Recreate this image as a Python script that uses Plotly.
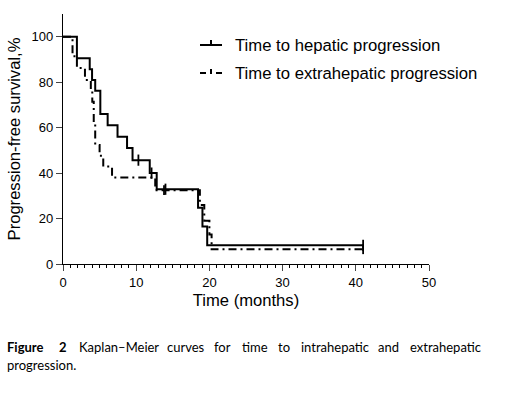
import plotly.graph_objects as go

# ---- data ----
hep_time = [0, 1.9, 3.65, 3.97, 4.4, 5.1, 6.1, 7.45, 8.75, 9.5, 11.85, 12.8, 18.45, 19.05, 19.7, 41]
hep_surv = [100, 90.5, 85.7, 81.0, 76.2, 66.0, 61.0, 56.0, 51.0, 45.7, 40.0, 32.9, 24.7, 16.5, 8.2, 8.2]
hep_cens_time = [10.3, 12.1, 14.0, 41]
hep_cens_surv = [45.7, 40.0, 32.9, 8.2]

ext_time = [0, 1.3, 1.9, 3.0, 3.8, 4.0, 4.2, 4.4, 5.0, 5.5, 6.7, 12.6, 18.7, 19.3, 20.0, 20.3, 41]
ext_surv = [100, 91.4, 86.2, 81.0, 76.2, 71.4, 61.9, 52.4, 47.6, 42.9, 38.1, 32.5, 26.0, 19.0, 13.0, 6.5, 6.5]
ext_cens_time = [13.8, 41]
ext_cens_surv = [32.5, 6.5]

x_ticks = [0, 10, 20, 30, 40, 50]
y_ticks = [0, 20, 40, 60, 80, 100]

legend_labels = ["Time to hepatic progression", "Time to extrahepatic progression"]
caption_line1 = ["Figure", "2", "Kaplan\u2013Meier", "curves", "for", "time", "to",
                 "intrahepatic", "and", "extrahepatic"]
caption_line1_px = [5, 57, 77, 165, 212, 240, 276, 299, 376, 408]
caption_line2 = "progression."

# ---- layout geometry (pixels) ----
W, H = 510, 397
L, R, T, B = 63, 81, 14, 133
PW, PH = W - L - R, H - T - B


def px(xp):
    return (xp - L) / PW


def py(yp):
    return (H - B - yp) / PH


DASH = "8px,4px,2px,4px"

fig = go.Figure()
fig.add_trace(go.Scatter(x=hep_time, y=hep_surv, mode="lines", line_shape="hv",
                         line=dict(color="black", width=2), showlegend=False,
                         hoverinfo="skip"))
fig.add_trace(go.Scatter(x=ext_time, y=ext_surv, mode="lines", line_shape="hv",
                         line=dict(color="black", width=2, dash=DASH), showlegend=False,
                         hoverinfo="skip"))
fig.add_trace(go.Scatter(x=hep_cens_time, y=hep_cens_surv, mode="markers",
                         marker=dict(symbol="line-ns", size=8,
                                     line=dict(color="black", width=1.8)),
                         showlegend=False, cliponaxis=False))
fig.add_trace(go.Scatter(x=ext_cens_time, y=ext_cens_surv, mode="markers",
                         marker=dict(symbol="line-ns", size=7,
                                     line=dict(color="black", width=1.8)),
                         showlegend=False, cliponaxis=False))

shapes = []
annotations = []

# manual legend
leg_y = [45, 73]
shapes.append(dict(type="line", xref="paper", yref="paper", x0=px(200), x1=px(222),
                   y0=py(leg_y[0]), y1=py(leg_y[0]), line=dict(color="black", width=2)))
shapes.append(dict(type="line", xref="paper", yref="paper", x0=px(211), x1=px(211),
                   y0=py(leg_y[0] - 5), y1=py(leg_y[0]), line=dict(color="black", width=2)))
shapes.append(dict(type="line", xref="paper", yref="paper", x0=px(200), x1=px(206),
                   y0=py(leg_y[1]), y1=py(leg_y[1]), line=dict(color="black", width=2)))
shapes.append(dict(type="line", xref="paper", yref="paper", x0=px(211), x1=px(211),
                   y0=py(leg_y[1] - 4), y1=py(leg_y[1] + 1), line=dict(color="black", width=2)))
shapes.append(dict(type="line", xref="paper", yref="paper", x0=px(216), x1=px(222),
                   y0=py(leg_y[1]), y1=py(leg_y[1]), line=dict(color="black", width=2)))
for lab, yy in zip(legend_labels, leg_y):
    annotations.append(dict(text=lab, xref="paper", yref="paper", x=px(233), y=py(yy),
                            xanchor="left", yanchor="middle", showarrow=False,
                            font=dict(family="Liberation Sans, Arial", size=16.7, color="black")))

# caption
cap_font = dict(family="Lato", size=13, color="black")
for word, xp in zip(caption_line1, caption_line1_px):
    txt = "<b>%s</b>" % word if word in ("Figure", "2") else word
    annotations.append(dict(text=txt, xref="paper", yref="paper", x=px(xp), y=py(347),
                            xanchor="left", yanchor="middle", showarrow=False, font=cap_font))
annotations.append(dict(text=caption_line2, xref="paper", yref="paper", x=px(5), y=py(365),
                        xanchor="left", yanchor="middle", showarrow=False, font=cap_font))

fig.update_layout(
    width=W, height=H,
    margin=dict(l=L, r=R, t=T, b=B, pad=0),
    paper_bgcolor="white", plot_bgcolor="white",
    font=dict(family="Liberation Sans, Arial", color="black"),
    shapes=shapes, annotations=annotations,
    showlegend=False,
)
fig.update_xaxes(range=[0, 50], tickvals=x_ticks, ticks="outside", ticklen=6, tickwidth=1.3,
                 showline=True, linecolor="black", linewidth=1.3, showgrid=False, zeroline=False,
                 tickfont=dict(size=13), title=dict(text="Time (months)", font=dict(size=16.6), standoff=5),
                 minor=dict(dtick=1, ticks="outside", ticklen=3, tickwidth=1, tickcolor="black", showgrid=False))
fig.update_yaxes(range=[0, 110], tickvals=y_ticks, ticks="outside", ticklen=6, tickwidth=1.3,
                 showline=True, linecolor="black", linewidth=1.3, showgrid=False, zeroline=False,
                 tickfont=dict(size=13), title=dict(text="Progression-free survival,%", font=dict(size=16.6), standoff=6))

fig.write_html("out.html", config={"displayModeBar": False},
               post_script="document.body.style.margin='0px';document.body.style.overflow='hidden';")
